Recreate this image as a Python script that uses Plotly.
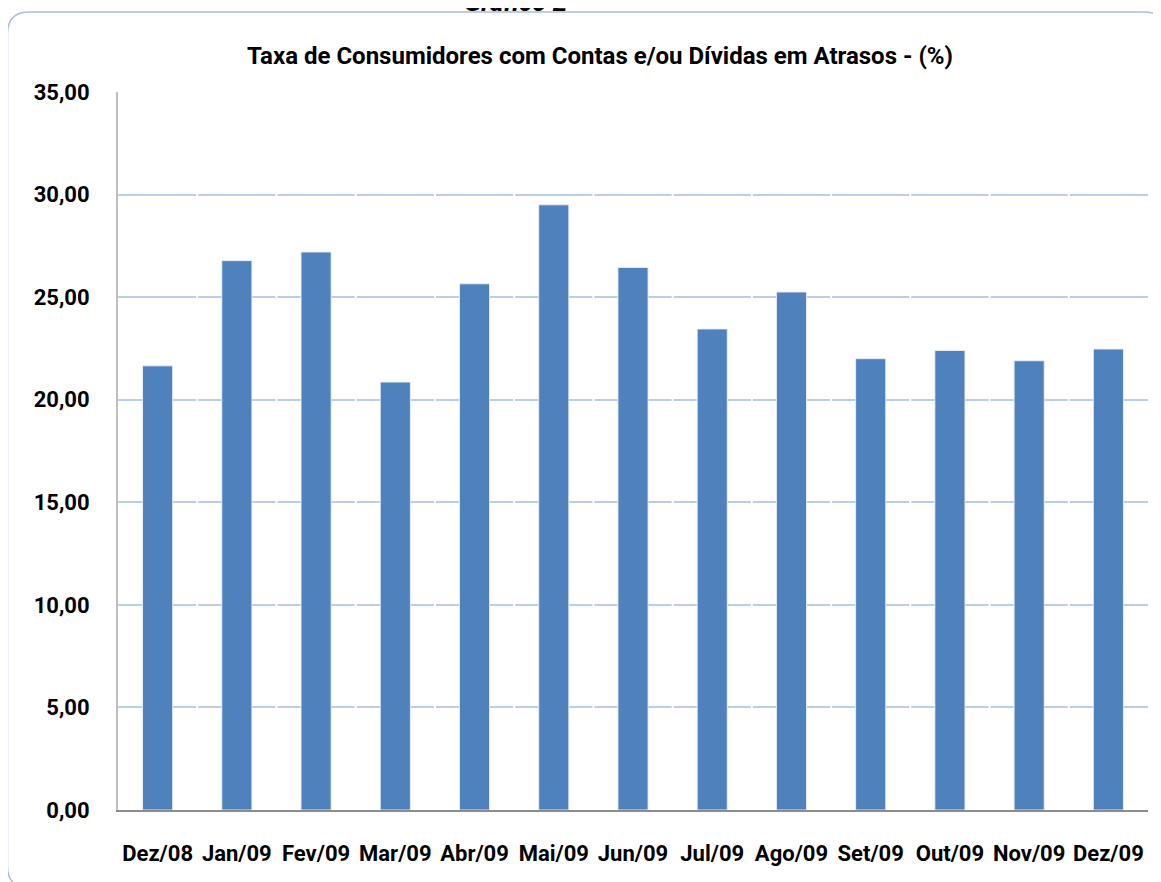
import plotly.graph_objects as go

categories = ["Dez/08", "Jan/09", "Fev/09", "Mar/09", "Abr/09", "Mai/09", "Jun/09",
              "Jul/09", "Ago/09", "Set/09", "Out/09", "Nov/09", "Dez/09"]
values = [21.65, 26.78, 27.20, 20.86, 25.65, 29.50, 26.45, 23.45, 25.25, 22.00, 22.40, 21.90, 22.47]
y_ticks = [0, 5, 10, 15, 20, 25, 30, 35]

OFF = 8  # default body margin of the page
W, H = 1161 - OFF, 882 - OFF
# plot area in page pixels
L, R, T, B = 118, 1148, 92, 810

def px(x):
    return (x - L) / (R - L)

def py(y):
    return (B - y) / (B - T)

FONT = "Roboto"

fig = go.Figure()
fig.add_trace(go.Bar(
    x=categories, y=values,
    marker=dict(color="#4F81BD", line=dict(color="rgba(235,240,250,0.9)", width=1)),
))

shapes = []
# white gaps on gridlines at category boundaries (Excel look)
for i in range(1, len(categories)):
    shapes.append(dict(type="line", xref="x", yref="y", x0=i - 0.5, x1=i - 0.5,
                       y0=0, y1=y_ticks[-1], line=dict(color="white", width=2), layer="between"))
# rounded frame
x0, x1, y0, y1, r = px(7.5), px(1166), py(12), py(888), 22
rx, ry = r / (R - L), r / (B - T)
path = (f"M {x0+rx},{y0} L {x1-rx},{y0} Q {x1},{y0} {x1},{y0-ry} "
        f"L {x1},{y1+ry} Q {x1},{y1} {x1-rx},{y1} L {x0+rx},{y1} Q {x0},{y1} {x0},{y1+ry} "
        f"L {x0},{y0-ry} Q {x0},{y0} {x0+rx},{y0} Z")
shapes.append(dict(type="path", xref="paper", yref="paper", path=path,
                   line=dict(color="#A7BDE6", width=1.5), layer="below"))

fig.update_layout(
    width=W, height=H,
    margin=dict(l=L - OFF, r=W - (R - OFF), t=T - OFF, b=H - (B - OFF)),
    paper_bgcolor="white", plot_bgcolor="white",
    separators=",.",
    showlegend=False,
    bargap=0.62,
    font=dict(family=FONT, color="black"),
    shapes=shapes,
    annotations=[
        dict(text="Taxa de Consumidores com Contas e/ou Dívidas em Atrasos - (%)",
             xref="paper", yref="paper", x=px(600), y=py(56), xanchor="center", yanchor="middle",
             showarrow=False, font=dict(family=FONT, size=24, color="black", weight="bold")),
        dict(text="<i>Gráfico 2</i>",
             xref="paper", yref="paper", x=px(515), y=py(19), xanchor="center", yanchor="bottom",
             showarrow=False, font=dict(family=FONT, size=26, color="black", weight="bold")),
    ],
)
fig.update_xaxes(
    type="category", showgrid=False, showline=True, linecolor="#8C8C8C", linewidth=2,
    ticks="", tickangle=0, tickfont=dict(family=FONT, size=22, color="black", weight="bold"),
    ticklabelstandoff=23,
)
fig.update_yaxes(
    range=[0, 35], tickvals=y_ticks, tickformat=".2f",
    showgrid=True, gridcolor="#B9CDED", gridwidth=1.5,
    showline=True, linecolor="#BFBFBF", linewidth=2, zeroline=False,
    ticks="", tickfont=dict(family=FONT, size=22, color="black", weight="bold"),
    ticklabelstandoff=22,
)

fig.write_html("out.html")
